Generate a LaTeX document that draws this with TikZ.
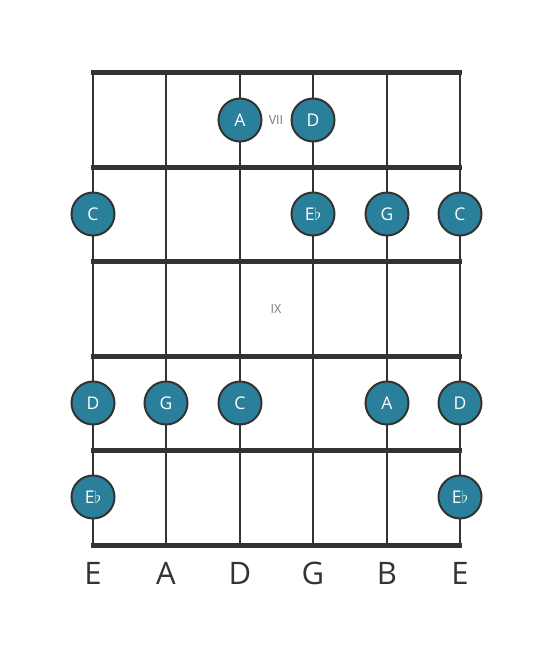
\documentclass[tikz,border=0pt]{standalone}
\usepackage{fontspec}
\setmainfont{Open Sans}
\definecolor{teal1}{HTML}{2A7F9B}
\definecolor{ink}{HTML}{333333}
\definecolor{greytxt}{HTML}{777777}
\begin{document}
\begin{tikzpicture}[x=1pt,y=-1pt,
  fret/.style={draw=ink,line width=5pt},
  strg/.style={draw=ink,line width=2.6pt},
  note/.style={circle,fill=teal1,draw=ink,line width=2pt,minimum size=43pt,inner sep=0pt,text=white,font=\fontsize{17.5}{17.5}\selectfont},
  fretnum/.style={text=greytxt,font=\fontsize{12.5}{12.5}\selectfont},
  sname/.style={text=ink,font=\fontsize{31}{31}\selectfont}]
\useasboundingbox (0,0) rectangle (553,656);
% strings
\foreach \x in {93,166,240,313,387,460}{
  \draw[strg] (\x,72) -- (\x,545);
}
% frets
\foreach \y in {72,167,261,356,450,545}{
  \draw[fret] (91,\y) -- (462,\y);
}
\node[fretnum] (p7) at (276,120) {VII};
\node[fretnum] (p9) at (276,309) {IX};
% notes
\node[note] (n1) at (240,120) {A};
\node[note] (n2) at (313,120) {D};
\node[note] (n3) at (93,214) {C};
\node[note] (n4) at (313,214) {E$\flat$};
\node[note] (n5) at (387,214) {G};
\node[note] (n6) at (460,214) {C};
\node[note] (n7) at (93,403) {D};
\node[note] (n8) at (166,403) {G};
\node[note] (n9) at (240,403) {C};
\node[note] (n10) at (387,403) {A};
\node[note] (n11) at (460,403) {D};
\node[note] (n12) at (93,497) {E$\flat$};
\node[note] (n13) at (460,497) {E$\flat$};
% string names
\node[sname] (s1) at (93,573) {E};
\node[sname] (s2) at (166,573) {A};
\node[sname] (s3) at (240,573) {D};
\node[sname] (s4) at (313,573) {G};
\node[sname] (s5) at (387,573) {B};
\node[sname] (s6) at (460,573) {E};
\end{tikzpicture}
\end{document}
